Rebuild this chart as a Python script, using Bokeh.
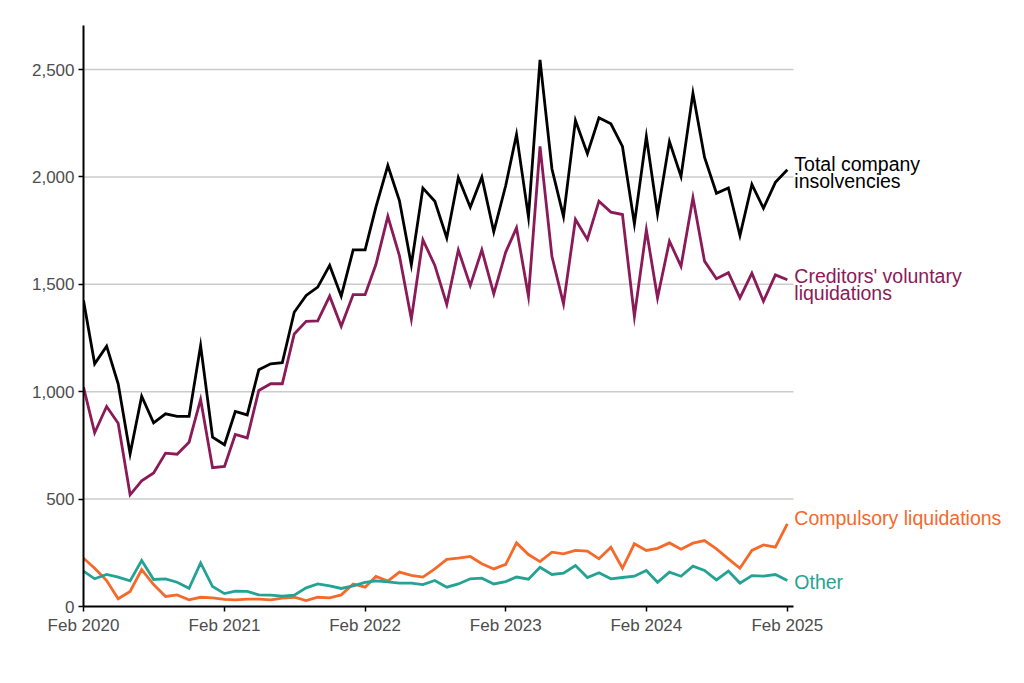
import pandas as pd
from bokeh.plotting import figure
from bokeh.models import (FixedTicker, DatetimeTickFormatter, NumeralTickFormatter,
                          Label, Range1d, ColumnDataSource)
from bokeh.embed import file_html
from bokeh.resources import INLINE

months = pd.date_range("2020-02-01", periods=61, freq="MS")

total = [1425, 1130, 1212, 1037, 711, 979, 855, 897, 885, 885,
         1215, 788, 753, 908, 892, 1102, 1130, 1135, 1370, 1448,
         1487, 1588, 1445, 1660, 1660, 1859, 2053, 1890, 1591, 1948,
         1887, 1716, 1996, 1859, 1999, 1745, 1960, 2198, 1814, 2545,
         2037, 1816, 2263, 2108, 2275, 2247, 2142, 1782, 2188, 1828,
         2165, 2002, 2390, 2092, 1924, 1949, 1727, 1965, 1854, 1975,
         2033]

cvl = [1021, 809, 931, 853, 520, 585, 622, 714, 709, 765,
       964, 646, 652, 801, 785, 1006, 1037, 1037, 1269, 1328,
       1330, 1445, 1305, 1452, 1452, 1592, 1816, 1634, 1339, 1707,
       1588, 1406, 1660, 1494, 1660, 1456, 1650, 1763, 1444, 2142,
       1629, 1409, 1802, 1709, 1887, 1836, 1825, 1350, 1754, 1437,
       1701, 1584, 1903, 1608, 1526, 1554, 1437, 1552, 1421, 1544,
       1521]

compulsory = [225, 178, 121, 36, 70, 172, 102, 47, 54, 31,
              43, 40, 33, 31, 34, 34, 31, 39, 43, 28,
              43, 40, 54, 105, 90, 140, 118, 160, 145, 137,
              175, 219, 225, 233, 199, 175, 196, 296, 242, 209,
              253, 245, 261, 258, 222, 276, 178, 292, 261, 271,
              296, 267, 295, 307, 268, 222, 178, 261, 287, 276,
              385]

other = [165, 129, 149, 137, 119, 214, 126, 129, 113, 85,
         203, 93, 60, 71, 70, 54, 53, 48, 53, 87,
         105, 96, 84, 96, 112, 119, 115, 109, 109, 102,
         121, 90, 105, 129, 132, 105, 116, 137, 127, 183,
         149, 155, 191, 135, 157, 129, 135, 141, 168, 113,
         160, 141, 188, 168, 124, 165, 109, 144, 141, 149,
         121]

series_names = ["Total company\ninsolvencies", "Creditors' voluntary\nliquidations",
                "Compulsory liquidations", "Other"]
series_colors = ["#000000", "#8a1a58", "#f5692a", "#24a394"]
label_values = [2020, 1500, 414, 112]

y_ticks = [0, 500, 1000, 1500, 2000, 2500]
tick_dates = pd.to_datetime(["2020-02-01", "2021-02-01", "2022-02-01",
                             "2023-02-01", "2024-02-01", "2025-02-01"])

# layout
W, H = 1016, 675
left, right, top, bottom = 83, 6, 25, 69
frame_w = W - left - right
axis_px = 710  # pixel length of the visible x axis
x_start = pd.Timestamp("2020-02-01")
axis_end = pd.Timestamp("2025-02-17")
x_end = x_start + (axis_end - x_start) * (frame_w / axis_px)

def ms(t):
    return t.value / 1e6

p = figure(width=W, height=H, output_backend="svg", toolbar_location=None,
           x_axis_type="datetime",
           x_range=Range1d(x_start, x_end),
           y_range=Range1d(0, 2705),
           min_border_left=left, min_border_right=right,
           min_border_top=top, min_border_bottom=bottom)
p.outline_line_color = None
p.background_fill_color = "white"
p.border_fill_color = "white"

# grid lines (stopping at end of axis)
p.xgrid.grid_line_color = None
p.ygrid.grid_line_color = None
g_y = [t for t in y_ticks if t > 0]
gr = p.segment(x0=[x_start] * len(g_y), y0=g_y, x1=[axis_end] * len(g_y), y1=g_y,
               line_color="#cccccc", line_width=1.5)
gr.level = "underlay"

src = ColumnDataSource(dict(x=months, total=total, cvl=cvl, comp=compulsory, other=other))
for col, c in zip(["total", "cvl", "comp", "other"], series_colors):
    p.line("x", col, source=src, line_color=c, line_width=2.8, line_join="miter")

p.yaxis.ticker = FixedTicker(ticks=y_ticks)
p.xaxis.ticker = FixedTicker(ticks=[ms(t) for t in tick_dates])
fmt = "%b %Y"
p.xaxis.formatter = DatetimeTickFormatter(milliseconds=fmt, seconds=fmt, minsec=fmt, minutes=fmt,
                                          hourmin=fmt, hours=fmt, days=fmt, months=fmt, years=fmt)
p.yaxis.formatter = NumeralTickFormatter(format="0,0")
p.xaxis.bounds = (ms(x_start), ms(axis_end))

for ax in (p.xaxis, p.yaxis):
    ax.axis_line_color = "black"
    ax.axis_line_width = 2
    ax.major_tick_line_color = "black"
    ax.major_tick_line_width = 1.5
    ax.major_tick_out = 5
    ax.major_tick_in = 0
    ax.minor_tick_line_color = None
    ax.major_label_text_color = "#4d4d4d"
    ax.major_label_text_font = "Liberation Sans"
    ax.major_label_text_font_size = "17px"
p.xaxis.major_label_standoff = 4
p.yaxis.major_label_standoff = 4

last = months[-1]
for name, c, v in zip(series_names, series_colors, label_values):
    p.add_layout(Label(x=last, y=v, text=name, text_color=c, x_offset=7,
                       text_font="Liberation Sans", text_font_size="19.5px",
                       text_baseline="middle", text_align="left", text_line_height=0.8))

open("out.html", "w").write(file_html(p, INLINE))
